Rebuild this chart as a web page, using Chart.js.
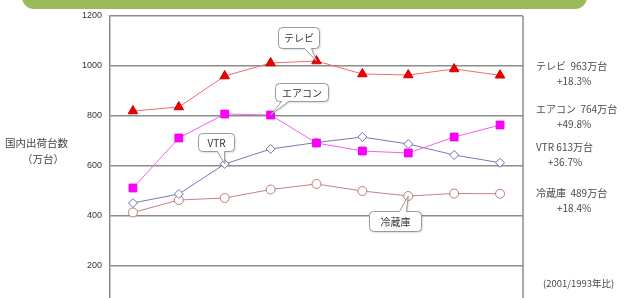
<!DOCTYPE html>
<html>
<head>
<meta charset="utf-8">
<script src="https://cdn.jsdelivr.net/npm/chart.js@4/dist/chart.umd.min.js"></script>
<style>
  html, body { margin: 0; padding: 0; background: #fff; overflow: hidden; }
  body { width: 625px; height: 298px; position: relative; font-family: "Noto Sans CJK JP", sans-serif; }
  .banner { position: absolute; left: 22px; top: -30px; width: 565px; height: 39px; background: #9bbb59; border-radius: 12px; }
  .wrap { position: absolute; left: 0; top: 0; width: 625px; height: 340px; }
  .txt { position: absolute; color: #444; font-size: 10.5px; line-height: 12px; white-space: nowrap; }
  .note { position: absolute; color: #4a4a4a; font-size: 10px; line-height: 12px; white-space: pre; }
</style>
</head>
<body>
<div class="banner"></div>
<div class="wrap"><canvas id="chart" width="625" height="340"></canvas></div>
<div class="txt" style="left:5px; top:137px;">国内出荷台数</div>
<div class="txt" style="left:22px; top:153px;">（万台）</div>
<div id="notes"></div>
<script>
const years = ["1993", "1994", "1995", "1996", "1997", "1998", "1999", "2000", "2001"];
const tvValues = [820, 836, 960, 1012, 1020, 968, 964, 988, 963];
const acValues = [512, 712, 808, 804, 692, 660, 652, 716, 764];
const vtrValues = [452, 488, 608, 668, 694, 716, 688, 644, 613];
const fridgeValues = [414, 464, 472, 506, 528, 500, 480, 490, 489];
const yTicks = [0, 200, 400, 600, 800, 1000, 1200];

const seriesNames = ["テレビ", "エアコン", "VTR", "冷蔵庫"];
const latest = ["963万台", "764万台", "613万台", "489万台"];
const growth = ["+18.3%", "+49.8%", "+36.7%", "+18.4%"];

// right-side notes
const notes = document.getElementById("notes");
const noteTops = [60, 103, 141, 187];
seriesNames.forEach((name, i) => {
    const a = document.createElement("div");
    a.className = "note";
    a.style.left = "536px";
    a.style.top = noteTops[i] + "px";
    a.textContent = name + (i === 2 ? " " : "  ") + latest[i];
    notes.appendChild(a);
    const b = document.createElement("div");
    b.className = "note";
    b.style.left = (i === 2 ? "548px" : "557px");
    b.style.top = (noteTops[i] + 15) + "px";
    b.textContent = growth[i];
    notes.appendChild(b);
});
const foot = document.createElement("div");
foot.className = "note";
foot.style.left = "543px";
foot.style.top = "277px";
foot.style.fontSize = "9.5px";
foot.textContent = "(2001/1993年比)";
notes.appendChild(foot);

// callout boxes: offset of the box from the point it points at
const callouts = [
    { ds: 0, idx: 4, text: "テレビ", dx: -39, dy: -34, w: 41, h: 21, side: "bottom", px: 26 },
    { ds: 1, idx: 3, text: "エアコン", dx: 4, dy: -32, w: 53, h: 18, side: "bottom", px: 6 },
    { ds: 2, idx: 2, text: "VTR", dx: -27, dy: -31, w: 36, h: 18, side: "bottom", px: 19 },
    { ds: 3, idx: 6, text: "冷蔵庫", dx: -39, dy: 15, w: 52, h: 20, side: "top", px: 30 },
];

function calloutPath(ctx, x, y, w, h, r, side, bx, tx, ty) {
    const bw = 7;
    ctx.beginPath();
    ctx.moveTo(x + r, y);
    if (side === "top") {
        ctx.lineTo(bx, y);
        ctx.lineTo(tx, ty);
        ctx.lineTo(bx + bw, y);
    }
    ctx.lineTo(x + w - r, y);
    ctx.quadraticCurveTo(x + w, y, x + w, y + r);
    ctx.lineTo(x + w, y + h - r);
    ctx.quadraticCurveTo(x + w, y + h, x + w - r, y + h);
    if (side === "bottom") {
        ctx.lineTo(bx + bw, y + h);
        ctx.lineTo(tx, ty);
        ctx.lineTo(bx, y + h);
    }
    ctx.lineTo(x + r, y + h);
    ctx.quadraticCurveTo(x, y + h, x, y + h - r);
    ctx.lineTo(x, y + r);
    ctx.quadraticCurveTo(x, y, x + r, y);
    ctx.closePath();
}

const decorations = {
    id: "decorations",
    afterDatasetsDraw(chart) {
        const ctx = chart.ctx;
        const area = chart.chartArea;
        ctx.save();
        // right border of plot area
        ctx.strokeStyle = "#8c8c8c";
        ctx.lineWidth = 1.5;
        ctx.beginPath();
        ctx.moveTo(area.right, area.top);
        ctx.lineTo(area.right, area.bottom);
        ctx.stroke();

        callouts.forEach(c => {
            const pt = chart.getDatasetMeta(c.ds).data[c.idx];
            const x = Math.round(pt.x + c.dx) + 0.5;
            const y = Math.round(pt.y + c.dy) + 0.5;
            ctx.shadowColor = "rgba(0,0,0,0.18)";
            ctx.shadowOffsetX = 1;
            ctx.shadowOffsetY = 1;
            ctx.shadowBlur = 2;
            calloutPath(ctx, x, y, c.w, c.h, 4, c.side, x + c.px, pt.x, pt.y);
            ctx.fillStyle = "#fff";
            ctx.fill();
            ctx.shadowColor = "transparent";
            ctx.strokeStyle = "#9a9a9a";
            ctx.lineWidth = 1;
            ctx.stroke();
            ctx.fillStyle = "#333";
            ctx.font = "10px 'Noto Sans CJK JP'";
            ctx.textAlign = "center";
            ctx.textBaseline = "middle";
            ctx.fillText(c.text, x + c.w / 2, y + c.h / 2 + 0.5);
        });
        ctx.restore();
    }
};

new Chart(document.getElementById("chart"), {
    type: "line",
    data: {
        labels: years,
        datasets: [
            {
                label: seriesNames[0], data: tvValues,
                borderColor: "#f46a6a", borderWidth: 1,
                pointStyle: "triangle", pointRadius: 5.5,
                pointBackgroundColor: "#ee0000", pointBorderColor: "#d00000", pointBorderWidth: 1,
            },
            {
                label: seriesNames[1], data: acValues,
                borderColor: "#f060f0", borderWidth: 1,
                pointStyle: "rect", pointRadius: 5.5,
                pointBackgroundColor: "#ff00ff", pointBorderColor: "#ee00ee", pointBorderWidth: 1,
            },
            {
                label: seriesNames[2], data: vtrValues,
                borderColor: "#7878b8", borderWidth: 1,
                pointStyle: "rectRot", pointRadius: 4.5,
                pointBackgroundColor: "#fff", pointBorderColor: "#7070b0", pointBorderWidth: 1,
            },
            {
                label: seriesNames[3], data: fridgeValues,
                borderColor: "#c88080", borderWidth: 1,
                pointStyle: "circle", pointRadius: 4.5,
                pointBackgroundColor: "#fff", pointBorderColor: "#c07878", pointBorderWidth: 1,
            },
        ],
    },
    options: {
        responsive: false,
        animation: false,
        layout: { padding: { left: 50, right: 102, top: 16, bottom: 24 } },
        plugins: { legend: { display: false }, tooltip: { enabled: false } },
        scales: {
            x: { display: false, offset: true },
            y: {
                min: 0, max: 1200,
                afterBuildTicks: scale => { scale.ticks = yTicks.map(v => ({ value: v })); },
                afterFit: scale => { scale.width = 60; },
                ticks: {
                    color: "#333", font: { family: "Liberation Sans", size: 9 }, padding: 8,
                    callback: v => String(v),
                },
                grid: { color: "#8c8c8c", lineWidth: 1.5, drawTicks: false },
                border: { color: "#8c8c8c", width: 1.5 },
            },
        },
    },
    plugins: [decorations],
});
</script>
</body>
</html>
